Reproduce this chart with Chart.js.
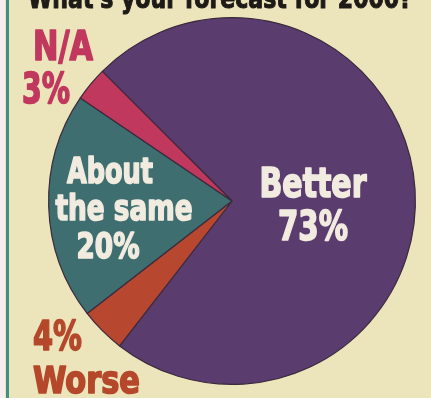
<!DOCTYPE html>
<html>
<head>
<meta charset="utf-8">
<script src="https://cdn.jsdelivr.net/npm/chart.js@4"></script>
<style>
  html, body { margin: 0; padding: 0; }
  body { width: 431px; height: 398px; background: #ece4bb; position: relative; overflow: hidden; }
  /* franja del costado izquierdo */
  .filo { position: absolute; left: 0; top: 0; width: 5px; height: 398px; background: #f6eef0; }
  .filo2 { position: absolute; left: 6px; top: 0; width: 3px; height: 398px; background: #3f8f86; }
  #wrap { position: absolute; left: 0; top: 0; width: 431px; height: 398px; }
</style>
</head>
<body>
<div class="filo"></div>
<div class="filo2"></div>
<div id="wrap"><canvas id="torta"></canvas></div>
<script>
const categorias = ["Better", "Worse", "About the same", "N/A"];
const porcentajes = [73, 4, 20, 3];
const colores = ["#5b3c6e", "#b8472f", "#3e6e6f", "#c1385f"];
const titulo = "What's your forecast for 2000?";

const blanco = "#f1ebe0";
// cada renglon: texto, alineacion, dx y dy desde el centro de la torta (dy = linea base), tamaño, ancho
const renglones = [
  { t: "Better", a: "center", dx: 81, dy: -4, s: 40, w: 107, c: blanco },
  { t: porcentajes[0] + "%", a: "center", dx: 81, dy: 39, s: 40, w: 70, c: blanco },
  { t: "About", a: "center", dx: -122, dy: -18, s: 36, w: 86, c: blanco },
  { t: "the same", a: "center", dx: -108, dy: 19, s: 36, w: 137, c: blanco },
  { t: porcentajes[2] + "%", a: "center", dx: -124, dy: 57, s: 36, w: 63, c: blanco },
  { t: "N/A", a: "left", dx: -199, dy: -141, s: 41, w: 60, c: "#c1385f" },
  { t: porcentajes[3] + "%", a: "left", dx: -210, dy: -98, s: 42, w: 48, c: "#c1385f" },
  { t: porcentajes[1] + "%", a: "left", dx: -199, dy: 149, s: 41, w: 49, c: "#b5482b" },
  { t: "Worse", a: "left", dx: -199, dy: 192, s: 37, w: 107, c: "#b5482b" }
];

// escribe el texto apretado al ancho pedido y con trazo para que se vea mas grueso
function textoAngosto(ctx, texto, x, y, ancho, alineacion, grosor) {
  const medida = ctx.measureText(texto).width;
  const k = Math.min(1, ancho / medida);
  ctx.save();
  ctx.translate(x, y);
  ctx.scale(k, 1);
  ctx.textAlign = alineacion;
  ctx.fillText(texto, 0, 0);
  if (grosor) {
    ctx.strokeStyle = ctx.fillStyle;
    ctx.lineWidth = grosor;
    ctx.lineJoin = "round";
    ctx.strokeText(texto, 0, 0);
  }
  ctx.restore();
}

const pluginTextos = {
  id: "textos",
  afterDraw(chart) {
    const ctx = chart.ctx;
    const arco = chart.getDatasetMeta(0).data[0];
    const cx = arco.x, cy = arco.y;

    ctx.save();
    ctx.textBaseline = "alphabetic";
    ctx.fillStyle = "#1e1a17";
    ctx.font = "bold 28px 'DejaVu Sans Condensed', sans-serif";
    textoAngosto(ctx, titulo, 28, 8, 384, "left", 1);

    renglones.forEach(r => {
      ctx.fillStyle = r.c;
      ctx.font = `bold ${r.s}px 'DejaVu Sans Condensed', 'DejaVu Sans', sans-serif`;
      textoAngosto(ctx, r.t, cx + r.dx, cy + r.dy, r.w, r.a, 1.6);
    });
    ctx.restore();
  }
};

new Chart(document.getElementById("torta"), {
  type: "pie",
  data: {
    labels: categorias,
    datasets: [{
      data: porcentajes,
      backgroundColor: colores,
      borderColor: "#3a2a3c",
      borderWidth: 1.2
    }]
  },
  options: {
    responsive: true,
    maintainAspectRatio: false,
    animation: false,
    rotation: -45,
    layout: { padding: { left: 48, right: 15, top: 17, bottom: 13 } },
    plugins: {
      legend: { display: false },
      tooltip: { enabled: false }
    }
  },
  plugins: [pluginTextos]
});
</script>
</body>
</html>
